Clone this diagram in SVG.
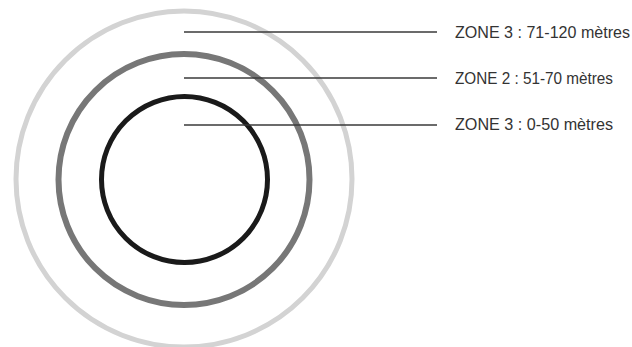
<svg xmlns="http://www.w3.org/2000/svg" width="632" height="347" viewBox="0 0 632 347">
<style>
.ring{fill:none}
.lead{stroke:#3a3a3a;stroke-width:1.5}
.lbl{font-family:"Liberation Sans",Arial,sans-serif;font-size:16px;fill:#333}
</style>
<rect width="632" height="347" fill="#fff"/>
<g id="zone-outer"><circle class="ring" cx="184" cy="179" r="168" stroke="#d3d3d3" stroke-width="5"/></g>
<g id="zone-middle"><circle class="ring" cx="184" cy="179.5" r="125.5" stroke="#777" stroke-width="6"/></g>
<g id="zone-inner"><circle class="ring" cx="184.5" cy="179.5" r="83" stroke="#1a1a1a" stroke-width="5"/></g>
<g id="connectors">
<line class="lead" x1="184" y1="32" x2="437" y2="32"/>
<line class="lead" x1="184" y1="78" x2="437" y2="78"/>
<line class="lead" x1="184" y1="125" x2="437" y2="125"/>
</g>
<g id="label-1"><text class="lbl" x="455" y="37.5" textLength="175" lengthAdjust="spacingAndGlyphs">ZONE 3 : 71-120 mètres</text></g>
<g id="label-2"><text class="lbl" x="455" y="83.5" textLength="158" lengthAdjust="spacingAndGlyphs">ZONE 2 : 51-70 mètres</text></g>
<g id="label-3"><text class="lbl" x="455" y="130" textLength="158" lengthAdjust="spacingAndGlyphs">ZONE 3 : 0-50 mètres</text></g>
</svg>
